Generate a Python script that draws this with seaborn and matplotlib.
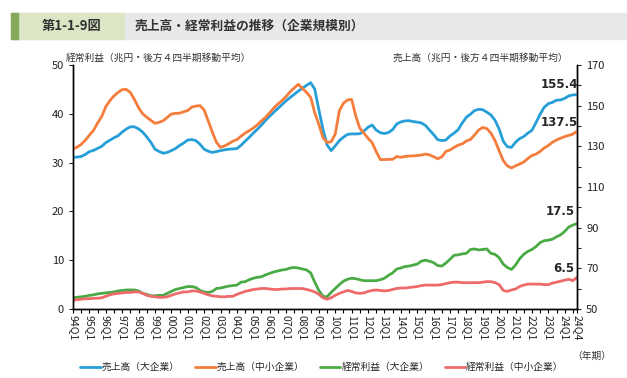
import numpy as np
import pandas as pd
import matplotlib
matplotlib.use("Agg")
import matplotlib.pyplot as plt
from matplotlib.patches import Rectangle
from matplotlib.ticker import MultipleLocator
import seaborn as sns

# 四半期ラベル 94Q1 ~ 24Q4
years = list(range(1994, 2025))
quarters = [f"{y % 100:02d}Q{q}" for y in years for q in range(1, 5)]

# 売上高（大企業） 兆円
sales_large = [
    124.6, 124.7, 125.0, 126.0, 127.4, 128.0, 129.0, 130.0,
    131.8, 133.0, 134.2, 135.2, 137.0, 138.5, 139.6, 139.6,
    138.6, 137.0, 134.6, 132.0, 128.6, 127.5, 126.6, 127.0,
    127.9, 128.9, 130.4, 131.6, 133.1, 133.3, 132.8, 131.0,
    128.6, 127.6, 127.0, 127.4, 127.9, 128.3, 128.6, 128.7,
    128.9, 130.5, 132.5, 134.4, 136.5, 138.4, 140.5, 142.8,
    144.8, 146.8, 148.6, 150.5, 152.4, 154.0, 155.6, 157.2,
    158.6, 160.0, 161.3, 158.1, 148.0, 138.5, 130.7, 127.9,
    130.2, 132.8, 134.5, 135.9, 136.1, 136.1, 136.2, 137.5,
    139.4, 140.5, 138.0, 136.7, 136.3, 136.8, 138.2, 141.0,
    142.0, 142.5, 142.6, 142.2, 141.9, 141.5, 140.3, 138.0,
    135.8, 133.3, 132.8, 133.1, 135.1, 136.5, 138.2, 141.5,
    144.3, 145.8, 147.6, 148.2, 148.0, 146.8, 145.4, 142.8,
    138.5, 132.5, 129.8, 129.5, 132.0, 133.8, 134.8, 136.5,
    137.9, 141.7, 145.8, 149.2, 151.0, 151.6, 152.7, 152.8,
    153.6, 154.8, 155.3, 155.4,
]

# 売上高（中小企業）
sales_sme = [
    128.7, 129.6, 131.0, 133.0, 135.5, 137.8, 141.5, 144.6,
    149.5, 152.5, 154.8, 156.5, 157.9, 158.0, 156.5, 153.0,
    149.0, 146.0, 144.3, 142.8, 141.3, 141.8, 142.6, 144.2,
    145.9, 146.2, 146.3, 147.0, 147.6, 149.3, 149.8, 150.0,
    147.9, 142.5, 137.0, 132.0, 129.5, 130.2, 131.3, 132.5,
    133.3, 135.0, 136.5, 137.7, 139.0, 140.6, 142.5, 144.3,
    146.5, 148.8, 150.8, 152.5, 154.5, 156.8, 158.8, 160.5,
    158.5, 156.5, 154.1, 146.5, 140.8, 134.3, 131.9, 132.3,
    136.0, 147.5, 151.2, 152.8, 153.1, 145.0, 138.9, 136.5,
    134.0, 131.8, 127.4, 123.5, 123.5, 123.6, 123.6, 125.0,
    124.6, 125.0, 125.2, 125.3, 125.5, 125.7, 126.2, 125.8,
    124.9, 123.9, 124.8, 127.5, 128.2, 129.5, 130.6, 131.2,
    132.6, 133.4, 135.6, 138.0, 139.3, 138.7, 136.5, 132.8,
    127.8, 123.0, 120.4, 119.4, 120.4, 121.3, 122.3, 124.0,
    125.5, 126.2, 127.5, 129.2, 130.4, 132.0, 133.1, 134.0,
    134.8, 135.4, 136.0, 137.5,
]

# 経常利益（大企業）
profit_large = [
    2.3, 2.4, 2.5, 2.6, 2.8, 2.9, 3.1, 3.2,
    3.3, 3.4, 3.5, 3.7, 3.8, 3.9, 3.9, 3.9,
    3.7, 3.2, 3.0, 2.7, 2.7, 2.8, 2.8, 3.2,
    3.6, 4.0, 4.2, 4.4, 4.6, 4.6, 4.4, 3.8,
    3.5, 3.4, 3.6, 4.2, 4.3, 4.5, 4.7, 4.8,
    4.9, 5.5, 5.6, 6.0, 6.3, 6.5, 6.6, 7.0,
    7.3, 7.6, 7.8, 8.0, 8.1, 8.4, 8.5, 8.4,
    8.2, 8.0, 7.4, 5.5, 3.8, 2.6, 2.5, 3.4,
    4.2, 5.0, 5.7, 6.1, 6.3, 6.2, 6.0, 5.8,
    5.8, 5.8, 5.8, 6.0, 6.3, 6.9, 7.4, 8.2,
    8.4, 8.7, 8.8, 9.0, 9.2, 9.8, 10.0, 9.8,
    9.5, 8.9, 8.8, 9.4, 10.2, 11.0, 11.1, 11.3,
    11.4, 12.2, 12.3, 12.1, 12.2, 12.3, 11.4, 11.2,
    10.5, 9.2, 8.5, 8.1, 9.0, 10.3, 11.2, 11.8,
    12.2, 12.8, 13.6, 14.0, 14.1, 14.3, 14.8, 15.2,
    15.9, 16.8, 17.2, 17.5,
]

# 経常利益（中小企業）
profit_sme = [
    1.8, 1.9, 2.0, 2.1, 2.1, 2.2, 2.2, 2.3,
    2.6, 2.9, 3.1, 3.2, 3.3, 3.4, 3.4, 3.5,
    3.5, 3.2, 2.8, 2.6, 2.5, 2.4, 2.4, 2.5,
    2.8, 3.1, 3.3, 3.5, 3.5, 3.7, 3.7, 3.5,
    3.2, 2.9, 2.7, 2.6, 2.5, 2.5, 2.6, 2.6,
    3.0, 3.3, 3.6, 3.8, 4.0, 4.1, 4.2, 4.2,
    4.1, 4.0, 4.0, 4.1, 4.1, 4.2, 4.2, 4.2,
    4.2, 4.0, 3.8, 3.5, 3.0, 2.3, 2.0, 2.3,
    2.8, 3.2, 3.5, 3.8, 3.6, 3.3, 3.2, 3.3,
    3.6, 3.8, 3.9, 3.8, 3.7, 3.8, 4.0, 4.2,
    4.3, 4.3, 4.4, 4.5, 4.6, 4.8, 4.9, 4.9,
    4.9, 4.9, 5.0, 5.2, 5.4, 5.5, 5.5, 5.4,
    5.4, 5.4, 5.4, 5.4, 5.5, 5.6, 5.6, 5.4,
    5.0, 3.8, 3.6, 3.9, 4.1, 4.6, 4.9, 5.1,
    5.1, 5.1, 5.1, 5.0, 5.0, 5.3, 5.5, 5.7,
    5.9, 6.1, 5.8, 6.5,
]

labels = ["売上高（大企業）", "売上高（中小企業）", "経常利益（大企業）", "経常利益（中小企業）"]
colors = ["#269fd8", "#f47d3c", "#4aab46", "#ef6a6a"]

idx = np.arange(len(quarters))
sales = pd.DataFrame({"t": np.tile(idx, 2),
                      "v": sales_large + sales_sme,
                      "s": [labels[0]] * len(idx) + [labels[1]] * len(idx)})
profit = pd.DataFrame({"t": np.tile(idx, 2),
                       "v": profit_large + profit_sme,
                       "s": [labels[2]] * len(idx) + [labels[3]] * len(idx)})

sns.set_style("white")
plt.rcParams["font.family"] = ["Noto Sans CJK JP", "DejaVu Sans"]

fig = plt.figure(figsize=(6.27, 3.78), dpi=100)
ax = fig.add_axes([73 / 627, 1 - 309 / 378, 504 / 627, 244 / 378])
ax2 = ax.twinx()

sns.lineplot(data=profit, x="t", y="v", hue="s", palette=colors[2:], lw=2.0,
             ax=ax, legend=False)
sns.lineplot(data=sales, x="t", y="v", hue="s", palette=colors[:2], lw=2.0,
             ax=ax2, legend=False)

ax.set_xlim(0, len(idx) - 1)
ax.set_ylim(0, 50)
ax2.set_ylim(50, 170)
ax.set_xlabel("")
ax.set_ylabel("")
ax2.set_ylabel("")

ax.set_yticks(np.arange(0, 51, 10))
ax2.set_yticks(np.arange(50, 171, 20))
ax2.yaxis.set_minor_locator(MultipleLocator(10))

tick_pos = list(range(0, len(idx), 4)) + [len(idx) - 1]
ax.set_xticks(tick_pos)
ax.set_xticklabels([quarters[i] for i in tick_pos], rotation=-90, fontsize=7.5)
ax.xaxis.set_minor_locator(MultipleLocator(2))

for a in (ax, ax2):
    a.spines["top"].set_visible(False)
    for side in ("left", "right", "bottom"):
        a.spines[side].set_color("black")
        a.spines[side].set_linewidth(1.0)
ax.tick_params(axis="x", which="both", direction="out", length=3, width=0.8,
               colors="black", labelcolor="#222222", pad=1, bottom=True)
ax.tick_params(axis="y", direction="out", length=3, width=0.8, labelsize=8,
               labelcolor="#222222", left=True)
ax2.tick_params(axis="y", which="both", direction="out", length=3, width=0.8,
                labelsize=8, labelcolor="#222222", right=True)

# 最終値のラベル
for a, x, y, s in [(ax2, 118.8, 160.3, "155.4"), (ax2, 118.8, 141.5, "137.5"),
                   (ax, 119.0, 19.9, "17.5"), (ax, 119.9, 8.4, "6.5")]:
    a.text(x, y, s, fontsize=8.5, fontweight="bold", ha="center", va="center",
           family="DejaVu Sans")

# 軸の単位
fig.text(66 / 627, 1 - 58 / 378, "経常利益（兆円・後方４四半期移動平均）", fontsize=7,
         ha="left", va="center", color="#333333")
fig.text(568 / 627, 1 - 58 / 378, "売上高（兆円・後方４四半期移動平均）", fontsize=7,
         ha="right", va="center", color="#333333")
fig.text(611 / 627, 1 - 356 / 378, "（年期）", fontsize=7, ha="right", va="center",
         color="#333333")

# タイトル帯
band_y, band_h = 1 - 39 / 378, 26 / 378
fig.patches.append(Rectangle((11 / 627, band_y), 616 / 627, band_h,
                             transform=fig.transFigure, color="#e7e8e9", zorder=0))
fig.patches.append(Rectangle((11 / 627, band_y), 113 / 627, band_h,
                             transform=fig.transFigure, color="#dce6c6", zorder=0))
fig.patches.append(Rectangle((11 / 627, band_y), 7 / 627, band_h,
                             transform=fig.transFigure, color="#86a85a", zorder=0))
fig.text(42 / 627, 1 - 26 / 378, "第1-1-9図", fontsize=9.5, fontweight="bold",
         ha="left", va="center", color="#333333")
fig.text(135 / 627, 1 - 26 / 378, "売上高・経常利益の推移（企業規模別）", fontsize=9.2,
         fontweight="bold", ha="left", va="center", color="#333333")

# 凡例
handles = ax2.get_lines()[:2] + ax.get_lines()[:2]
fig.legend(handles, labels, loc="center", bbox_to_anchor=(322 / 627, 1 - 367 / 378),
           ncol=4, frameon=False, fontsize=7, handlelength=2.1, handletextpad=0.1,
           columnspacing=1.6)

fig.savefig("out.png", dpi=100)
